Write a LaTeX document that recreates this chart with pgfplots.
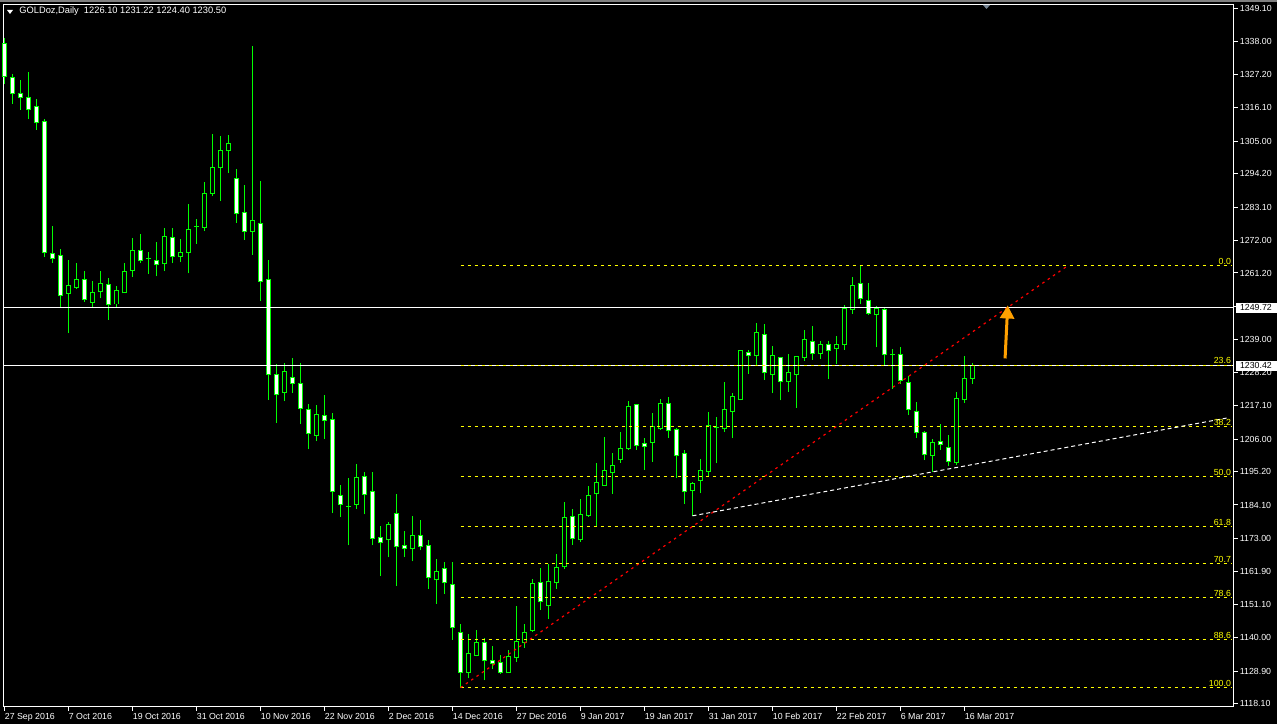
\documentclass[border=0pt]{standalone}
\usepackage{pgfplots}
\pgfplotsset{compat=1.18}
\usepackage{pgfplotstable}
\usetikzlibrary{arrows.meta}
\usepackage{fontspec}
\setmainfont{Liberation Sans}
\definecolor{mtgreen}{RGB}{0,255,0}
\definecolor{fibyellow}{RGB}{255,255,0}
\definecolor{arroworange}{RGB}{255,160,0}
\definecolor{markgray}{RGB}{120,135,150}
\newcommand\mtfont{\fontsize{4.4pt}{5pt}\selectfont}

\pgfplotstableread{
i o h l c
0 1337.4 1339.2 1324.1 1326.5
1 1326.1 1327.2 1317.4 1320.7
2 1320.7 1325.5 1315.4 1319.4
3 1319.4 1327.9 1312.4 1315.4
4 1316.5 1319.1 1308.8 1311.1
5 1311.5 1312.4 1266.5 1267.9
6 1267.6 1276.7 1264.5 1265.9
7 1266.9 1269.3 1249.8 1253.6
8 1254.5 1265.4 1241.2 1256.9
9 1256.3 1264.6 1255.9 1258.9
10 1258.9 1262.0 1251.5 1252.3
11 1251.5 1258.7 1249.8 1254.6
12 1255.0 1262.0 1252.8 1257.6
13 1257.3 1259.5 1245.6 1250.6
14 1250.9 1256.9 1249.8 1255.3
15 1254.6 1264.6 1254.6 1261.6
16 1261.9 1272.9 1259.8 1268.6
17 1268.6 1274.2 1264.5 1265.2
18 1266.1 1268.1 1260.9 1266.1
19 1265.2 1271.6 1260.1 1263.9
20 1264.2 1276.2 1261.8 1273.2
21 1272.9 1276.2 1264.5 1266.6
22 1266.6 1272.6 1264.8 1267.9
23 1267.9 1284.0 1261.1 1275.5
24 1276.7 1279.2 1270.9 1276.7
25 1276.4 1291.4 1275.1 1287.5
26 1287.7 1307.4 1286.7 1296.1
27 1296.1 1306.6 1285.1 1301.8
28 1301.8 1306.9 1294.4 1304.1
29 1292.5 1295.6 1277.8 1280.9
30 1281.2 1290.3 1272.3 1275.0
31 1275.1 1336.8 1267.3 1278.5
32 1277.5 1291.9 1251.8 1258.5
33 1258.9 1265.4 1219.1 1227.4
34 1227.4 1231.0 1211.3 1220.7
35 1221.6 1231.4 1218.6 1228.4
36 1226.6 1233.0 1221.3 1224.4
37 1224.4 1231.4 1211.1 1216.1
38 1215.7 1217.7 1202.7 1207.7
39 1207.3 1217.4 1205.3 1214.1
40 1213.7 1220.7 1206.0 1212.1
41 1212.4 1214.7 1181.4 1188.5
42 1187.2 1190.8 1180.1 1184.2
43 1183.7 1193.2 1170.7 1183.7
44 1184.4 1197.6 1182.7 1193.2
45 1193.5 1195.2 1181.0 1187.7
46 1188.5 1194.9 1170.7 1173.1
47 1173.2 1177.0 1160.5 1171.5
48 1172.5 1178.3 1166.8 1177.5
49 1181.2 1187.8 1157.1 1170.2
50 1170.5 1175.3 1166.8 1169.5
51 1169.5 1180.3 1165.4 1173.9
52 1173.9 1179.0 1169.0 1170.4
53 1170.5 1172.3 1156.2 1159.9
54 1159.2 1166.0 1151.2 1161.9
55 1162.9 1165.3 1154.6 1158.2
56 1157.6 1165.3 1139.3 1143.3
57 1141.6 1144.6 1123.4 1128.4
58 1128.5 1141.3 1126.5 1134.6
59 1134.1 1142.6 1133.8 1138.3
60 1138.3 1139.9 1125.8 1132.3
61 1132.3 1137.3 1129.5 1131.3
62 1131.6 1134.3 1128.0 1128.3
63 1128.3 1135.9 1128.3 1133.6
64 1133.3 1150.6 1132.0 1138.6
65 1138.3 1144.6 1136.6 1141.6
66 1142.3 1159.6 1142.0 1157.9
67 1158.2 1163.2 1149.3 1151.9
68 1150.6 1164.5 1146.3 1158.6
69 1158.2 1167.9 1156.2 1163.2
70 1163.5 1185.1 1162.9 1179.8
71 1180.2 1182.8 1170.9 1172.9
72 1172.5 1186.1 1171.9 1180.8
73 1180.5 1190.5 1180.2 1187.2
74 1187.8 1198.1 1177.2 1191.5
75 1190.5 1206.7 1190.5 1195.5
76 1194.8 1201.5 1187.8 1197.1
77 1199.1 1208.4 1198.1 1202.8
78 1202.8 1218.7 1202.4 1216.7
79 1217.4 1217.7 1202.4 1203.8
80 1204.4 1206.4 1195.8 1203.4
81 1204.8 1214.7 1198.4 1210.1
82 1209.4 1219.4 1209.1 1217.7
83 1217.7 1220.0 1206.4 1208.7
84 1209.1 1209.7 1193.1 1200.4
85 1201.1 1202.4 1184.5 1188.5
86 1188.8 1191.8 1180.5 1191.1
87 1192.4 1199.5 1188.0 1195.5
88 1195.3 1215.1 1193.7 1210.4
89 1210.0 1213.2 1197.9 1210.0
90 1209.4 1225.1 1208.3 1215.7
91 1215.3 1221.4 1206.3 1220.0
92 1219.3 1235.3 1218.9 1235.3
93 1234.7 1235.7 1227.7 1233.7
94 1233.7 1244.6 1230.3 1241.3
95 1240.6 1244.3 1225.7 1228.0
96 1227.4 1237.0 1221.3 1233.7
97 1233.0 1233.0 1218.9 1225.0
98 1225.0 1234.3 1221.7 1228.0
99 1227.4 1233.3 1216.4 1233.3
100 1233.0 1242.3 1232.0 1239.0
101 1238.3 1243.6 1232.3 1234.3
102 1234.3 1238.6 1232.7 1237.3
103 1237.3 1238.6 1226.0 1235.3
104 1236.0 1240.3 1231.0 1237.3
105 1237.3 1250.6 1235.7 1249.3
106 1249.0 1259.9 1247.6 1256.9
107 1257.6 1263.6 1251.0 1252.6
108 1251.9 1257.9 1247.3 1247.9
109 1247.3 1250.3 1236.5 1249.3
110 1249.0 1250.0 1230.3 1234.0
111 1234.2 1236.0 1222.7 1234.2
112 1234.0 1236.7 1224.4 1225.4
113 1224.7 1227.0 1214.0 1215.7
114 1215.1 1218.4 1206.4 1208.1
115 1208.1 1208.7 1199.0 1200.8
116 1200.4 1206.1 1195.1 1204.7
117 1205.1 1211.1 1202.4 1204.1
118 1203.1 1207.4 1197.1 1198.4
119 1198.1 1221.7 1197.4 1219.4
120 1219.0 1233.7 1218.0 1226.0
121 1226.1 1231.2 1224.4 1230.5
}\candles

\pgfplotstableread{
lab price
0.0 1263.7
23.6 1230.6
38.2 1210.1
50.0 1193.55
61.8 1177.0
70.7 1164.5
78.6 1153.4
88.6 1139.4
100.0 1123.4
}\fibs

\begin{document}
\begin{tikzpicture}[x=0.5pt,y=0.5pt]
\fill[black] (0,0) rectangle (1277,724);
\fill[gray] (0,722) rectangle (1277,724);
\begin{axis}[
  at={(1.75pt,8.75pt)}, anchor=south west,
  scale only axis, width=615pt, height=351pt,
  xmin=-0.125, xmax=153.625, ymin=1117.13, ymax=1350.43,
  clip=false,
  axis line style={white, line width=0.5pt},
  axis background/.style={fill=black},
  tick align=outside, xtick pos=bottom, ytick pos=right,
  major tick length=2pt,
  every tick/.style={white, line width=0.5pt},
  xtick={0,8,...,120},
  xticklabels={27 Sep 2016,7 Oct 2016,19 Oct 2016,31 Oct 2016,10 Nov 2016,22 Nov 2016,2 Dec 2016,14 Dec 2016,27 Dec 2016,9 Jan 2017,19 Jan 2017,31 Jan 2017,10 Feb 2017,22 Feb 2017,6 Mar 2017,16 Mar 2017},
  xticklabel style={anchor=north west, inner sep=0pt, text=white, font=\mtfont, yshift=-1pt},
  ytick={1118.1,1128.9,1140.0,1151.1,1161.9,1173.0,1184.1,1195.2,1206.0,1217.1,1228.2,1239.0,1250.1,1261.2,1272.0,1283.1,1294.2,1305.0,1316.1,1327.2,1338.0,1349.1},
  yticklabels={1118.10,1128.90,1140.00,1151.10,1161.90,1173.00,1184.10,1195.20,1206.00,1217.10,1228.20,1239.00,1250.10,1261.20,1272.00,1283.10,1294.20,1305.00,1316.10,1327.20,1338.00,1349.10},
  yticklabel style={anchor=west, inner sep=0pt, text=white, font=\mtfont, xshift=1pt},
]
% wicks: low to high
\addplot[draw=mtgreen, line width=0.5pt, line cap=butt, mark=none,
  quiver={u={0}, v={\thisrow{h}-\thisrow{l}}}]
  table[x=i, y=l] {\candles};
% body outlines (1px larger than body)
\addplot[draw=mtgreen, line width=2.5pt, line cap=butt, mark=none,
  quiver={u={0}, v={abs(\thisrow{c}-\thisrow{o})+0.34}}]
  table[x=i, y expr={min(\thisrow{o},\thisrow{c})-0.17}] {\candles};
% down candles: white body
\addplot[draw=white, line width=1.5pt, line cap=butt, mark=none,
  quiver={u={0}, v={max(\thisrow{o}-\thisrow{c}-0.32,0)}}]
  table[x=i, y expr={\thisrow{c}+0.16}] {\candles};
% up candles: hollow (black) body
\addplot[draw=black, line width=1.5pt, line cap=butt, mark=none,
  quiver={u={0}, v={max(\thisrow{c}-\thisrow{o}-0.32,0)}}]
  table[x=i, y expr={\thisrow{o}+0.16}] {\candles};
% horizontal price lines
\addplot[white, line width=0.5pt, mark=none] coordinates {(-0.125,1249.72) (153.625,1249.72)};
\addplot[white, line width=0.5pt, mark=none] coordinates {(-0.125,1230.42) (153.625,1230.42)};
% fibonacci levels
\addplot[fibyellow, line width=0.5pt, dash pattern=on 1.75pt off 1.75pt, mark=none]
  coordinates {(57,1263.7) (153.45,1263.7)};
\addplot[fibyellow, line width=0.5pt, dash pattern=on 1.75pt off 1.75pt, mark=none]
  coordinates {(57,1230.6) (153.45,1230.6)};
\addplot[fibyellow, line width=0.5pt, dash pattern=on 1.75pt off 1.75pt, mark=none]
  coordinates {(57,1210.1) (153.45,1210.1)};
\addplot[fibyellow, line width=0.5pt, dash pattern=on 1.75pt off 1.75pt, mark=none]
  coordinates {(57,1193.55) (153.45,1193.55)};
\addplot[fibyellow, line width=0.5pt, dash pattern=on 1.75pt off 1.75pt, mark=none]
  coordinates {(57,1177.0) (153.45,1177.0)};
\addplot[fibyellow, line width=0.5pt, dash pattern=on 1.75pt off 1.75pt, mark=none]
  coordinates {(57,1164.5) (153.45,1164.5)};
\addplot[fibyellow, line width=0.5pt, dash pattern=on 1.75pt off 1.75pt, mark=none]
  coordinates {(57,1153.4) (153.45,1153.4)};
\addplot[fibyellow, line width=0.5pt, dash pattern=on 1.75pt off 1.75pt, mark=none]
  coordinates {(57,1139.4) (153.45,1139.4)};
\addplot[fibyellow, line width=0.5pt, dash pattern=on 1.75pt off 1.75pt, mark=none]
  coordinates {(57,1123.4) (153.45,1123.4)};
% fib labels
\addplot[only marks, mark=none, nodes near coords, point meta=explicit symbolic,
  every node near coord/.style={anchor=south east, inner sep=0.4pt, text=fibyellow, font=\mtfont}]
  table[x expr=153.45, y=price, meta=lab] {\fibs};
% trend lines
\addplot[red, line width=0.6pt, dash pattern=on 1.25pt off 2pt, mark=none] coordinates {(57,1123.4) (132.95,1263.7)};
\addplot[white, line width=0.5pt, dash pattern=on 2pt off 1.5pt, mark=none] coordinates {(86,1180.5) (153,1213.1)};
% arrow
\draw[arroworange, line width=1.5pt, -{Triangle[width=7pt,length=6.5pt]}] (axis cs:125.07,1232.8) -- (axis cs:125.4,1250.4);
% price boxes
\node[fill=white, text=black, anchor=west, inner xsep=2.2pt, inner ysep=0pt, minimum height=5pt, text width=16.25pt, align=left, font=\mtfont] at (axis cs:153.625,1249.72) [xshift=0.85pt] {1249.72};
\node[fill=white, text=black, anchor=west, inner xsep=2.2pt, inner ysep=0pt, minimum height=5pt, text width=16.25pt, align=left, font=\mtfont] at (axis cs:153.625,1230.42) [xshift=0.85pt] {1230.42};
\end{axis}
% header
\fill[white] (7,714) -- (13,714) -- (10,710) -- cycle;
\node[anchor=west, inner sep=0pt, text=white, font=\fontsize{4.65pt}{5pt}\selectfont] at (19,713) {GOLDoz,Daily\ \ 1226.10 1231.22 1224.40 1230.50};
\fill[markgray] (983,719) -- (990,719) -- (986.5,715) -- cycle;
\pgfresetboundingbox
\path (0,0) rectangle (1277,724);
\end{tikzpicture}
\end{document}
